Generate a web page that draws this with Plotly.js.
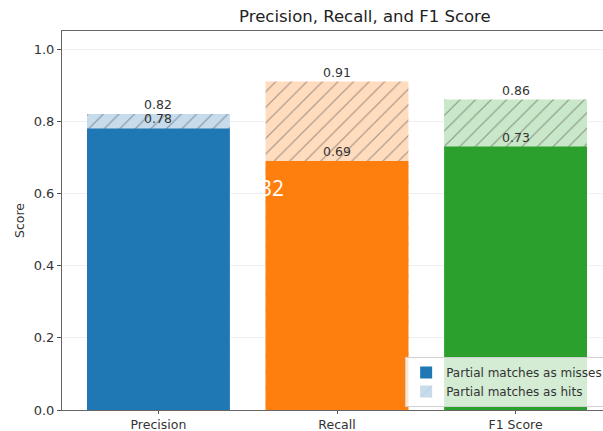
<!DOCTYPE html>
<html>
<head>
<meta charset="utf-8">
<script src="https://cdn.plot.ly/plotly-3.0.1.min.js"></script>
<style>
  html, body { margin: 0; padding: 0; overflow: hidden; background: #fff; }
  #chart { width: 612px; height: 431px; }
</style>
</head>
<body>
<div id="chart"></div>
<script>
const categories = ["Precision", "Recall", "F1 Score"];
const missesValues = [0.78, 0.69, 0.73];
const hitsValues = [0.82, 0.91, 0.86];
const yTickVals = [0.0, 0.2, 0.4, 0.6, 0.8, 1.0];
const yTickText = ["0.0", "0.2", "0.4", "0.6", "0.8", "1.0"];
const solidColors = ["#1f77b4", "#ff7f0e", "#2ca02c"];
const lightColors = ["#c6dcec", "#ffdcbe", "#c9e7c9"];
const hatchColors = ["rgba(110,130,150,0.4)", "rgba(200,140,80,0.4)", "rgba(90,150,90,0.4)"];

const xIdx = categories.map((c, i) => i);

const hits = {
  type: "bar",
  name: "Partial matches as hits",
  x: xIdx,
  y: hitsValues,
  width: 0.8,
  legendrank: 2,
  marker: {
    color: lightColors,
    line: { width: 0 },
    pattern: { shape: "/", fgcolor: hatchColors, size: 11, solidity: 0.1, fillmode: "overlay" }
  },
  hoverinfo: "skip"
};
const misses = {
  type: "bar",
  name: "Partial matches as misses",
  x: xIdx,
  y: missesValues,
  width: 0.8,
  legendrank: 1,
  marker: { color: solidColors, line: { width: 0 } },
  hoverinfo: "skip"
};

const labelFont = { family: "DejaVu Sans", size: 12.5, color: "#333" };
const annotations = [];
hitsValues.forEach((v, i) => annotations.push({
  x: i, y: v, xref: "x", yref: "y", text: v.toFixed(2), showarrow: false,
  yanchor: "bottom", yshift: 0, font: labelFont
}));
missesValues.forEach((v, i) => annotations.push({
  x: i, y: v, xref: "x", yref: "y", text: v.toFixed(2), showarrow: false,
  yanchor: "bottom", yshift: 0, font: labelFont
}));
annotations.push({
  x: 0.382, y: 0.586, xref: "paper", yref: "paper", text: "32", showarrow: false,
  xanchor: "center", yanchor: "middle", font: { family: "Open Sans", size: 21, color: "#ffffff" }
});

const tickFont = { family: "DejaVu Sans", size: 13, color: "#333" };

const layout = {
  width: 612, height: 431,
  margin: { l: 62, r: 0, t: 31, b: 21, pad: 0 },
  paper_bgcolor: "#ffffff",
  plot_bgcolor: "#ffffff",
  barmode: "overlay",
  showlegend: true,
  title: {
    text: "Precision, Recall, and F1 Score",
    font: { family: "DejaVu Sans", size: 16.5, color: "#222" },
    x: (62 + 612) / 2 / 612, xref: "paper", xanchor: "center",
    y: 1 - 16 / 431, yref: "container", yanchor: "middle"
  },
  xaxis: {
    range: [-0.54, 2.54],
    tickvals: xIdx, ticktext: categories,
    ticks: "outside", ticklen: 3, tickcolor: "#555",
    tickfont: { family: "DejaVu Sans", size: 12.5, color: "#333" },
    automargin: false,
    showgrid: false, zeroline: false,
    showline: true, linecolor: "#666", linewidth: 1, mirror: true
  },
  yaxis: {
    range: [0, 1.05],
    tickvals: yTickVals, ticktext: yTickText,
    ticks: "outside", ticklen: 4, tickcolor: "#555",
    tickfont: tickFont, automargin: false,
    showgrid: true, gridcolor: "rgba(0,0,0,0.06)", gridwidth: 1,
    zeroline: false,
    showline: true, linecolor: "#666", linewidth: 1, mirror: true,
    title: { text: "Score", font: { family: "DejaVu Sans", size: 12.5, color: "#333" }, standoff: 6 }
  },
  legend: {
    x: 0.993, y: 0.008, xanchor: "right", yanchor: "bottom",
    bgcolor: "rgba(255,255,255,0.8)", bordercolor: "#d0d0d0", borderwidth: 1,
    font: { family: "DejaVu Sans", size: 12, color: "#333" },
    tracegroupgap: 0, itemwidth: 30
  },
  annotations: annotations
};

Plotly.newPlot("chart", [hits, misses], layout, { displayModeBar: false, staticPlot: true });
</script>
</body>
</html>
